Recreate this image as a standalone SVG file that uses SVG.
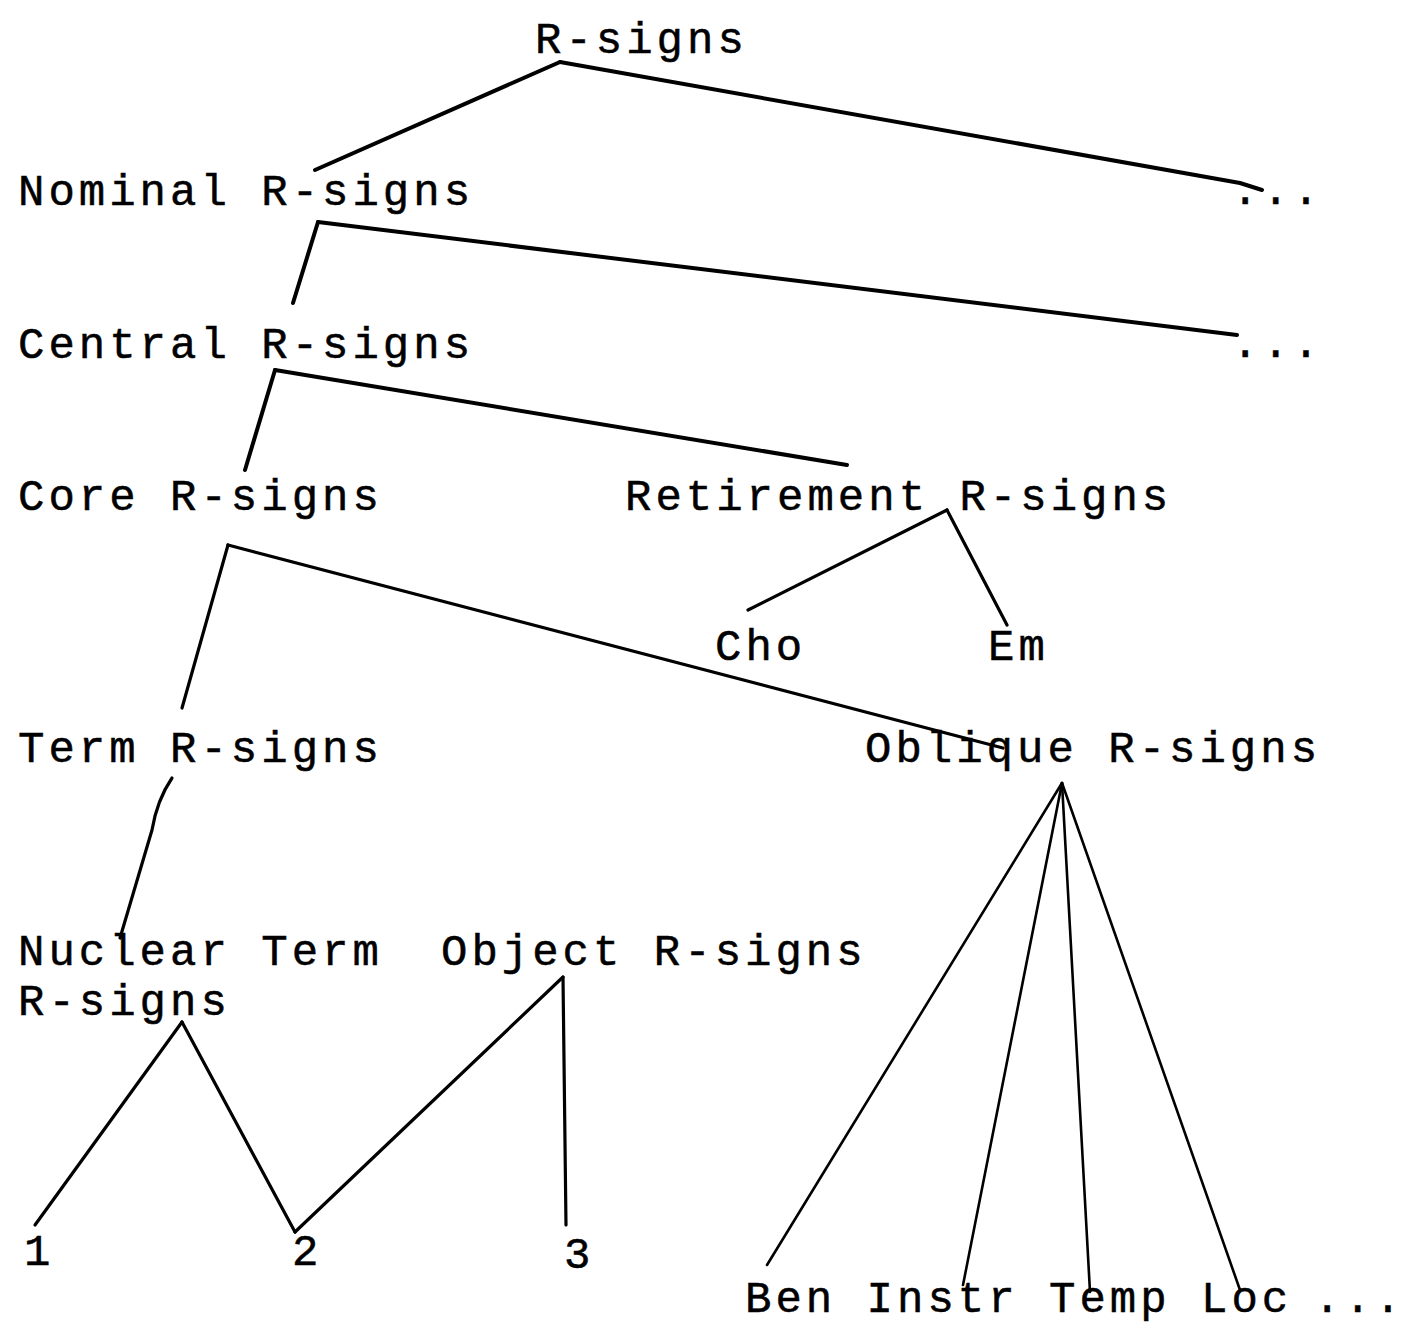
<svg xmlns="http://www.w3.org/2000/svg" width="1406" height="1323" viewBox="0 0 1406 1323">
  <style>
    text { font-family: "Liberation Mono", "DejaVu Sans Mono", monospace; font-size: 44px; letter-spacing: 4px; fill: #000; stroke: #000; stroke-width: 0.5; }
    .edge { fill: none; stroke: #000; stroke-linecap: round; stroke-linejoin: round; }
    .w4 { stroke-width: 4; }
    .w3 { stroke-width: 3.2; }
    .w2 { stroke-width: 2.6; }
  </style>
  <rect width="1406" height="1323" fill="#fff"/>

  <!-- tree branches -->
  <g id="connectors">
    <path class="edge w4" d="M560 62 L315 170"/>
    <path class="edge w4" d="M560 62 L1240 183 L1262 190"/>
    <path class="edge w4" d="M318 222 L293 303"/>
    <path class="edge w4" d="M318 222 L1237 335"/>
    <path class="edge w4" d="M275 370 L245 470"/>
    <path class="edge w4" d="M275 370 L847 465"/>
    <path class="edge w3" d="M947 510 L748 610"/>
    <path class="edge w3" d="M947 510 L1007 625"/>
    <path class="edge w3" d="M228 545 L182 708"/>
    <path class="edge w3" d="M228 545 L1003 748"/>
    <path class="edge w3" d="M172 778 Q157 800 152 830 L120 938"/>
    <path class="edge w3" d="M182 1022 L35 1225"/>
    <path class="edge w3" d="M182 1022 L295 1232"/>
    <path class="edge w3" d="M563 977 L295 1232"/>
    <path class="edge w3" d="M563 977 L566 1225"/>
    <path class="edge w2" d="M1062 783 L767 1265"/>
    <path class="edge w2" d="M1062 783 L963 1285"/>
    <path class="edge w2" d="M1062 783 L1090 1292"/>
    <path class="edge w2" d="M1062 783 L1240 1290"/>
  </g>

  <g id="n-rsigns"><text x="535" y="53">R-signs</text></g>
  <g id="n-nominal"><text x="18" y="205">Nominal R-signs</text></g>
  <g id="n-more1"><text x="1232" y="204">...</text></g>
  <g id="n-central"><text x="18" y="358">Central R-signs</text></g>
  <g id="n-more2"><text x="1232" y="357">...</text></g>
  <g id="n-core"><text x="18" y="510">Core R-signs</text></g>
  <g id="n-retirement"><text x="625" y="510">Retirement R-signs</text></g>
  <g id="n-cho"><text x="715" y="660">Cho</text></g>
  <g id="n-em"><text x="988" y="660">Em</text></g>
  <g id="n-term"><text x="18" y="762">Term R-signs</text></g>
  <g id="n-oblique"><text x="865" y="762">Oblique R-signs</text></g>
  <g id="n-nuclear"><text x="18" y="965">Nuclear Term</text><text x="18" y="1015">R-signs</text></g>
  <g id="n-object"><text x="441" y="965">Object R-signs</text></g>
  <g id="n-1"><text x="24" y="1265">1</text></g>
  <g id="n-2"><text x="292" y="1265">2</text></g>
  <g id="n-3"><text x="564" y="1268">3</text></g>
  <g id="n-ben"><text x="745" y="1312">Ben</text></g>
  <g id="n-instr"><text x="866.6" y="1312">Instr</text></g>
  <g id="n-temp"><text x="1049" y="1312">Temp</text></g>
  <g id="n-loc"><text x="1201" y="1312">Loc</text></g>
  <g id="n-more3"><text x="1314" y="1312" letter-spacing="2">...</text></g>
</svg>
